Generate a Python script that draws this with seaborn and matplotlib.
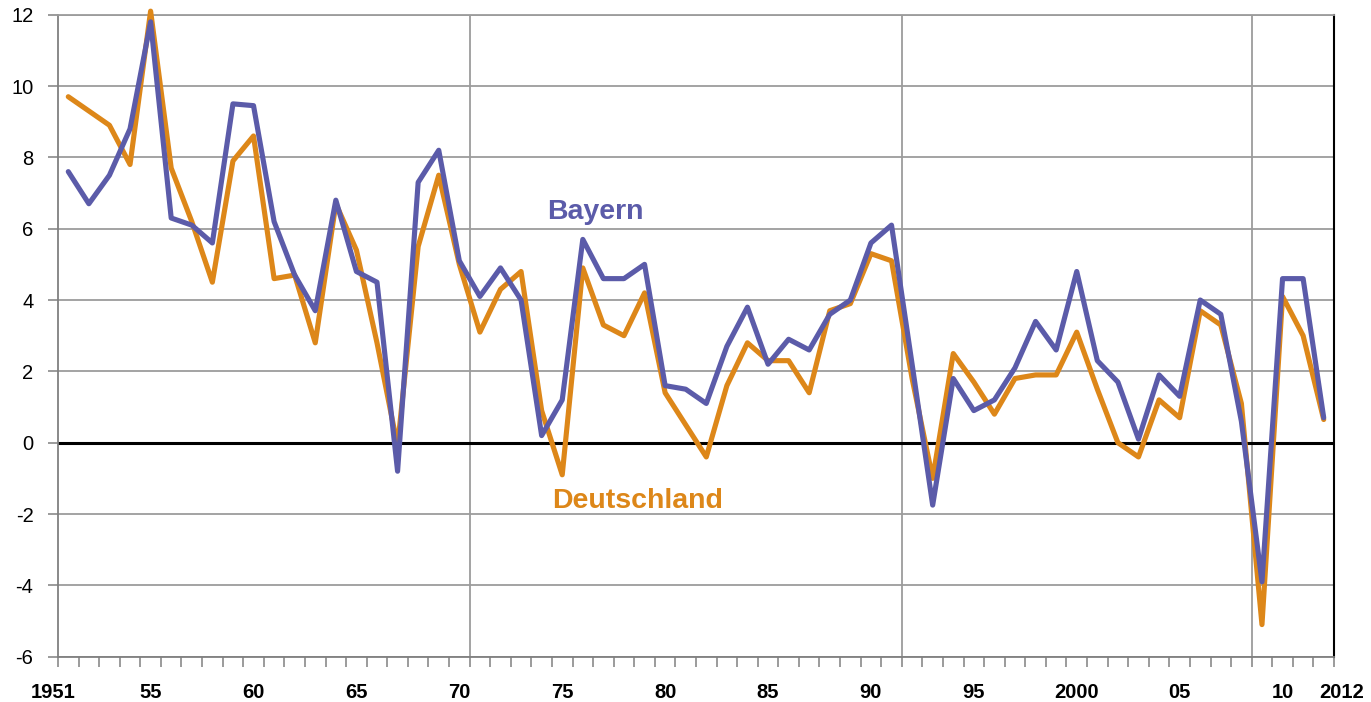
import numpy as np
import pandas as pd
import matplotlib
matplotlib.use("Agg")
import matplotlib.pyplot as plt
import matplotlib.transforms as mtransforms
import seaborn as sns

# ---------------- data ----------------
years = list(range(1951, 2013))
bayern = [7.6, 6.7, 7.5, 8.8, 11.8, 6.3, 6.1, 5.6, 9.5, 9.45,
          6.2, 4.7, 3.7, 6.8, 4.8, 4.5, -0.8, 7.3, 8.2, 5.1,
          4.1, 4.9, 4.0, 0.2, 1.2, 5.7, 4.6, 4.6, 5.0, 1.6,
          1.5, 1.1, 2.7, 3.8, 2.2, 2.9, 2.6, 3.6, 4.0, 5.6,
          6.1, 2.2, -1.75, 1.8, 0.9, 1.2, 2.1, 3.4, 2.6, 4.8,
          2.3, 1.7, 0.1, 1.9, 1.3, 4.0, 3.6, 0.6, -3.9, 4.6,
          4.6, 0.7]
deutschland = [9.7, 9.3, 8.9, 7.8, 12.1, 7.7, 6.2, 4.5, 7.9, 8.6,
               4.6, 4.7, 2.8, 6.7, 5.4, 2.8, -0.1, 5.5, 7.5, 5.0,
               3.1, 4.3, 4.8, 0.9, -0.9, 4.9, 3.3, 3.0, 4.2, 1.4,
               0.5, -0.4, 1.6, 2.8, 2.3, 2.3, 1.4, 3.7, 3.9, 5.3,
               5.1, 1.8, -1.0, 2.5, 1.7, 0.8, 1.8, 1.9, 1.9, 3.1,
               1.5, 0.0, -0.4, 1.2, 0.7, 3.7, 3.3, 1.1, -5.1, 4.1,
               3.0, 0.65]
series_names = ["Deutschland", "Bayern"]
label_years = [1951, 1955, 1960, 1965, 1970, 1975, 1980, 1985, 1990,
               1995, 2000, 2005, 2010, 2012]
label_texts = ["1951", "55", "60", "65", "70", "75", "80", "85", "90",
               "95", "2000", "05", "10", "2012"]
y_ticks = [-6, -4, -2, 0, 2, 4, 6, 8, 10, 12]
break_years = [1970.5, 1991.5, 2008.5]

# ---------------- style ----------------
BLUE = "#5b5ba9"
ORANGE = "#dd8719"
GRID = "#9c9c9c"
AXGRAY = "#808080"

sns.set_theme(style="white")
plt.rcParams["font.family"] = ["Liberation Sans", "DejaVu Sans"]
plt.rcParams["axes.unicode_minus"] = False

df = pd.DataFrame({
    "Jahr": years * 2,
    "Wert": deutschland + bayern,
    "Region": [series_names[0]] * len(years) + [series_names[1]] * len(years),
})

fig = plt.figure(figsize=(13.71, 7.02), dpi=100)
ax = fig.add_axes([58 / 1371, 1 - 656.7 / 702, (1334 - 58) / 1371, (656.7 - 14.7) / 702])

sns.lineplot(data=df, x="Jahr", y="Wert", hue="Region", hue_order=series_names,
             palette={"Deutschland": ORANGE, "Bayern": BLUE},
             linewidth=3.7, legend=False, ax=ax, sort=False, zorder=3)
for ln in ax.lines:
    ln.set_clip_on(False)

ax.set_xlim(years[0] - 0.5, years[-1] + 0.5)
ax.set_ylim(y_ticks[0], y_ticks[-1])

# grid
ax.set_axisbelow(True)
ax.set_yticks(y_ticks)
ax.set_yticklabels([str(v) for v in y_ticks])
ax.yaxis.grid(True, color=GRID, linewidth=1.3)
ax.xaxis.grid(False)
ax.axhline(0, color="black", linewidth=2.2, zorder=2)
for bx in break_years:
    ax.axvline(bx, color=GRID, linewidth=1.3, zorder=1)

# x ticks
ax.set_xticks(label_years)
ax.set_xticklabels(label_texts, fontweight="bold", fontsize=14.5)
ax.set_xticks(np.arange(years[0] - 0.5, years[-1] + 1.0, 1.0), minor=True)
ax.tick_params(axis="x", which="major", length=0, pad=19)
ax.tick_params(axis="x", which="minor", bottom=True, length=7.2, width=1.1,
               color=AXGRAY, direction="out")
ax.tick_params(axis="y", which="major", left=True, length=7.2, width=1.1,
               color=AXGRAY, direction="out", pad=10.5, labelsize=14.5)
for lab in ax.get_xticklabels():
    lab.set_color("black")
for lab in ax.get_yticklabels():
    lab.set_color("black")

# shift the end labels like in the reference
xl = ax.get_xticklabels()
xl[0].set_transform(xl[0].get_transform() +
                    mtransforms.ScaledTranslation(-0.15, 0, fig.dpi_scale_trans))
xl[-1].set_transform(xl[-1].get_transform() +
                     mtransforms.ScaledTranslation(0.18, 0, fig.dpi_scale_trans))

ax.set_xlabel("")
ax.set_ylabel("")

# spines
for side in ["left", "bottom", "top"]:
    ax.spines[side].set_color(AXGRAY)
    ax.spines[side].set_linewidth(1.3)
ax.spines["top"].set_color(GRID)
ax.spines["right"].set_color("black")
ax.spines["right"].set_linewidth(1.5)

# series labels
ax.text(1976.61, 6.26, "Bayern", color=BLUE, fontsize=20.5, fontweight="bold",
        ha="center", va="baseline", zorder=4)
ax.text(1978.65, -1.84, "Deutschland", color=ORANGE, fontsize=20.5, fontweight="bold",
        ha="center", va="baseline", zorder=4)

fig.savefig("out.png", dpi=100)
